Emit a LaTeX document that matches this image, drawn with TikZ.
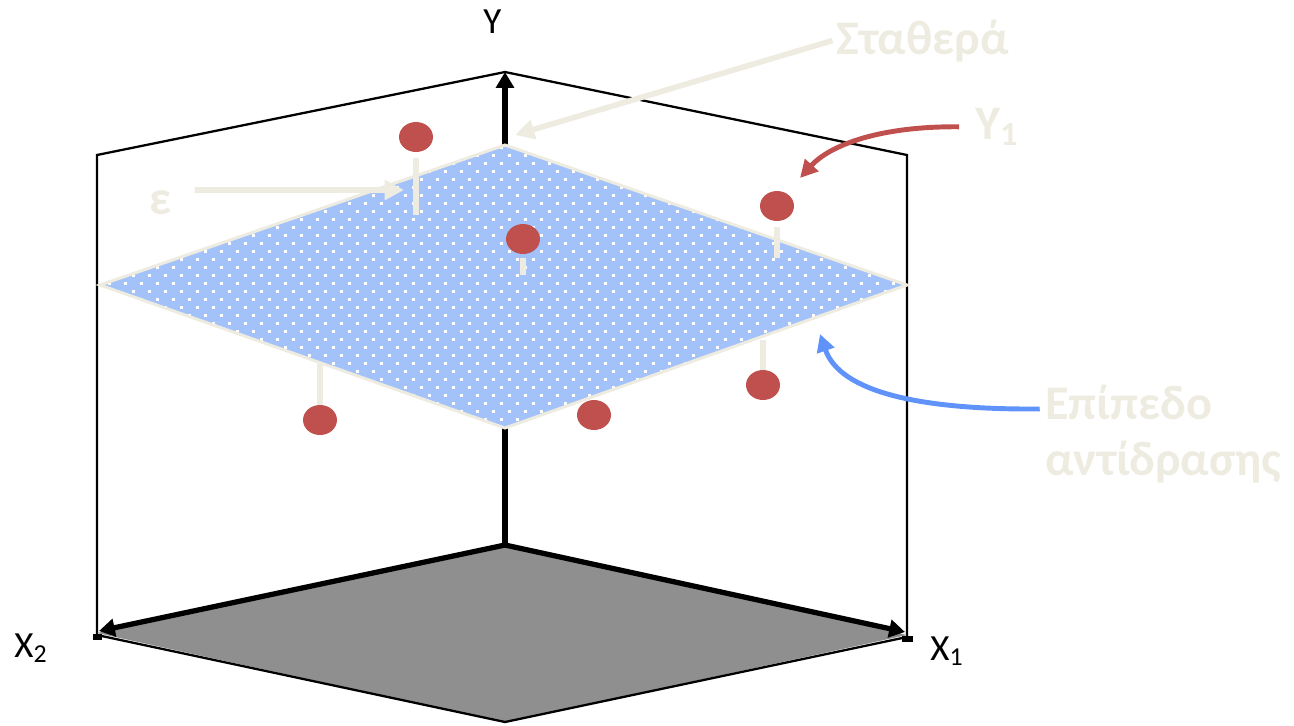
\documentclass[tikz,border=0pt]{standalone}
\usepackage{fontspec}
\setmainfont{Carlito}
\usetikzlibrary{arrows.meta, shapes.geometric, positioning}

\definecolor{tan}{HTML}{EEECE1}
\definecolor{dotred}{HTML}{C0504D}
\definecolor{planeblue}{HTML}{A3C2FA}
\definecolor{arrowblue}{HTML}{5F93FA}
\definecolor{floorgray}{HTML}{8F8F8F}

\tikzset{
  boxedge/.style={line width=1.3pt},
  axisarrow/.style={line width=3pt, -{Triangle[length=9pt,width=10pt]}},
  ball/.style={ellipse, fill=dotred, minimum width=0.68cm, minimum height=0.6cm, inner sep=0pt},
  stem/.style={tan, line width=3pt},
  axislabel/.style={inner sep=0pt, anchor=base west, font=\fontsize{21}{24}\selectfont},
  tanlabel/.style={inner sep=0pt, anchor=base west, text=tan, font=\fontsize{27.5}{32}\selectfont\bfseries},
  tanarrow/.style={tan, line width=3.2pt, -{Triangle[length=11pt,width=11pt]}},
  curvearrow/.style={line width=2.8pt, -{Triangle[length=10pt,width=10pt]}}
}

\begin{document}
\begin{tikzpicture}[x=0.02cm, y=-0.02cm]
\useasboundingbox (0,0) rectangle (1294,725);

% Ecken
\coordinate (O) at (505,545);
\coordinate (Ytop) at (505,72);
\coordinate (Xone) at (905,632);
\coordinate (Xtwo) at (99,631);
\coordinate (BL) at (97,155);
\coordinate (BR) at (907,155);

% Rueckwand
\draw[boxedge] (97,635) -- (BL) -- (Ytop) -- (BR) -- (907,637);

% Boden
\fill[floorgray] (O) -- (97,633) -- (505,722) -- (907,635) -- cycle;
\draw[boxedge] (97,635) -- (505,722) -- (907,637);
\fill (93,634) rectangle (102,640);
\fill (902,636) rectangle (913,642);
\draw[axisarrow] (O) -- (Xone);
\draw[axisarrow] (O) -- (Xtwo);

% Y-Achse
\draw[axisarrow] (O) -- (Ytop);

% Ebene
\fill[planeblue] (505,145) -- (100,285) -- (505,428) -- (907,285) -- cycle;
\begin{scope}
\clip (505,145) -- (100,285) -- (505,428) -- (907,285) -- cycle;
\foreach \r in {0,...,36}{
  \pgfmathsetmacro{\off}{mod(\r,2)*8}
  \foreach \c in {0,...,51}
    \fill[white] ({100+\c*16+\off},{146+\r*8}) rectangle ++(3,3);
}
\end{scope}
\draw[tan, line width=1.7pt] (505,145) -- (100,285) -- (505,428) -- (907,285) -- cycle;

% Punkte
\node[ball] (b1) at (416,137) {};
\node[ball] (b2) at (523,239) {};
\node[ball] (b3) at (777,206) {};
\node[ball] (b4) at (320,420) {};
\node[ball] (b5) at (594,415) {};
\node[ball] (b6) at (763,385) {};
\coordinate (s1) at (416,215);
\coordinate (s2) at (523,275);
\coordinate (s3) at (777,258);
\coordinate (s4) at (320,364);
\coordinate (s6) at (763,340);
\draw[stem] ([yshift=-3pt]b1.south) -- (s1);
\draw[stem] ([yshift=-2pt]b2.south) -- (s2);
\draw[stem] ([yshift=-3pt]b3.south) -- (s3);
\draw[stem] (b4.north) -- (s4);
\draw[stem] (b6.north) -- (s6);

% Beschriftung
\node[axislabel] (lblY) at (483,33) {Y};
\node[axislabel] (lblXtwo) at (14,657) {X\textsubscript{2}};
\node[axislabel] (lblXone) at (930,660) {X\textsubscript{1}};
\node[tanlabel] (lblEps) at (149,214) {ε};
\node[tanlabel] (lblConst) at (836,54) {Σταθερά};
\node[tanlabel] (lblYone) at (975,139) {Y\textsubscript{1}};
\node[tanlabel] (lblPlaneA) at (1045,419) {Επίπεδο};
\node[tanlabel] (lblPlaneB) at (1045,475) {αντίδρασης};

% Pfeile
\coordinate (epsTip) at (404,190);
\coordinate (constTip) at (515,135);
\coordinate (yoneTip) at (800,178);
\coordinate (planeTip) at (820,334);
\draw[tanarrow] ([xshift=13pt,yshift=7pt]lblEps.east) -- (epsTip);
\draw[tanarrow] ([xshift=-2pt]lblConst.west) -- (constTip);
\draw[curvearrow, dotred] ([xshift=-9pt]lblYone.west) .. controls (880,126) and (830,145) .. (yoneTip);
\draw[curvearrow, arrowblue] ([xshift=-3pt,yshift=-4pt]lblPlaneA.west) .. controls (920,410) and (840,392) .. (planeTip);
\end{tikzpicture}
\end{document}
